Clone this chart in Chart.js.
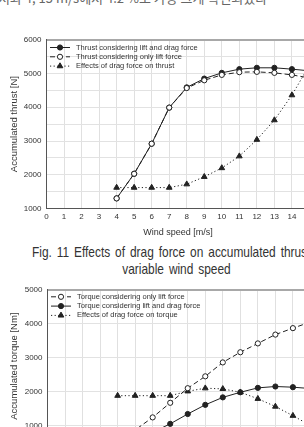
<!DOCTYPE html>
<html>
<head>
<meta charset="utf-8">
<script src="https://cdn.jsdelivr.net/npm/chart.js@4.4.0/dist/chart.umd.min.js"></script>
<style>
  html, body { margin: 0; padding: 0; background: #fff; }
  body { width: 304px; height: 427px; overflow: hidden; position: relative; font-family: "Liberation Sans", Arial, sans-serif; }
  .box { position: absolute; left: 0; }
  #para { position: absolute; left: -2px; top: -9px; font: 13px/13px "Noto Sans CJK KR", serif; color: #666; white-space: nowrap; }
  .cap { position: absolute; white-space: nowrap; font-size: 14.5px; line-height: 16px; color: #333; word-spacing: 2px; transform: scaleX(0.82); }
</style>
</head>
<body>
<div id="para">서와 4, 15 m/s에서 4.2 %로 가장 크게 확인되었다</div>
<div class="box" style="top:30px;width:330px;height:208px"><canvas id="thrustChart"></canvas></div>
<div class="cap" style="left:32px;top:244px;transform-origin:0 0">Fig. 11 Effects of drag force on accumulated thrust with</div>
<div class="cap" style="left:0;width:353px;text-align:center;top:261px;transform-origin:176.5px 0">variable wind speed</div>
<div class="box" style="top:280px;width:330px;height:192px"><canvas id="torqueChart"></canvas></div>
<script>
const windSpeed = [4, 5, 6, 7, 8, 9, 10, 11, 12, 13, 14, 15];

const thrustLiftDrag = [1300, 2030, 2920, 3990, 4590, 4850, 5020, 5130, 5170, 5170, 5130, 5080];
const thrustLiftOnly = [1300, 2030, 2920, 3990, 4570, 4800, 4960, 5040, 5050, 5020, 4960, 4870];
const thrustDragEffect = [1620, 1620, 1620, 1620, 1720, 1940, 2200, 2550, 3040, 3620, 4360, 5250];

const torqueLiftOnly = [500, 870, 1240, 1670, 2100, 2450, 2860, 3160, 3420, 3680, 3870, 4050];
const torqueLiftDrag = [330, 560, 800, 1050, 1340, 1610, 1830, 1980, 2110, 2150, 2130, 2090];
const torqueDragEffect = [1880, 1880, 1880, 1880, 2010, 2100, 2080, 1980, 1790, 1560, 1290, 1000];

const thrustTicks = [1000, 2000, 3000, 4000, 5000, 6000];
const torqueTicks = [1000, 2000, 3000, 4000, 5000];

const ink = "#222";
const textColor = "#333";
const narrow = "'Liberation Sans Narrow', 'Liberation Sans', Arial, sans-serif";

const toPoints = (ys) => windSpeed.map((x, i) => ({ x: x, y: ys[i] }));

function filledSeries(label, ys, order) {
  return {
    label: label, data: toPoints(ys), order: order,
    borderColor: ink, borderWidth: 1, backgroundColor: ink,
    pointStyle: "circle", pointRadius: 2.6, pointBackgroundColor: ink, pointBorderColor: ink,
  };
}
function openSeries(label, ys, order) {
  return {
    label: label, data: toPoints(ys), order: order,
    borderColor: ink, borderWidth: 1, borderDash: [5, 3], backgroundColor: "#fff",
    pointStyle: "circle", pointRadius: 2.6, pointBackgroundColor: "#fff", pointBorderColor: ink,
  };
}
function triSeries(label, ys, order) {
  return {
    label: label, data: toPoints(ys), order: order,
    borderColor: ink, borderWidth: 1, borderDash: [1.2, 2.4], backgroundColor: ink,
    pointStyle: "triangle", pointRadius: 3.3, pointBackgroundColor: ink, pointBorderColor: ink,
  };
}

// legend drawn inside the plot, top-left, with line + marker samples
const innerLegend = {
  id: "innerLegend",
  afterDraw(chart, args, opts) {
    const { ctx, chartArea } = chart;
    ctx.save();
    chart.data.datasets.forEach((ds, i) => {
      const y = chartArea.top + opts.top + i * opts.gap;
      const x0 = chartArea.left + 3.5;
      ctx.strokeStyle = ds.borderColor;
      ctx.lineWidth = 1;
      ctx.setLineDash(ds.borderDash || []);
      ctx.beginPath();
      ctx.moveTo(x0, y);
      ctx.lineTo(x0 + 20, y);
      ctx.stroke();
      ctx.setLineDash([]);
      ctx.fillStyle = ds.pointBackgroundColor;
      ctx.strokeStyle = ds.pointBorderColor;
      Chart.helpers.drawPoint(ctx, { pointStyle: ds.pointStyle, radius: ds.pointRadius, rotation: 0, borderWidth: 1 }, x0 + 10, y);
      ctx.fillStyle = textColor;
      ctx.font = "7.5px " + narrow;
      ctx.textBaseline = "middle";
      ctx.textAlign = "left";
      ctx.fillText(ds.label, x0 + 26, y);
    });
    ctx.restore();
  },
};

function makeChart(id, datasets, yTitle, yMin, yMax, yTicks, yGrid, leftAxis, legendTop) {
  const ctx = document.getElementById(id).getContext("2d");
  return new Chart(ctx, {
    type: "line",
    data: { datasets: datasets },
    plugins: [innerLegend],
    options: {
      responsive: true,
      maintainAspectRatio: false,
      animation: false,
      layout: { padding: { top: 9, right: 330 - (leftAxis + 15 * 17.53), left: 8.6, bottom: 0 } },
      plugins: {
        legend: { display: false },
        tooltip: { enabled: false },
        innerLegend: { top: legendTop, gap: 9.3 },
      },
      scales: {
        x: {
          type: "linear", min: 0, max: 15,
          afterFit: (s) => { s.height = 29.5; },
          ticks: { stepSize: 1, autoSkip: false, padding: 3, color: textColor, font: { size: 8, family: narrow } },
          grid: { color: "#e0e0e0", drawTicks: false },
          border: { color: "#555", width: 1 },
          title: { display: true, text: "Wind speed [m/s]", color: textColor, padding: 0, font: { size: 9, family: "'Liberation Sans', Arial" } },
        },
        y: {
          min: yMin, max: yMax,
          afterFit: (s) => { s.width = leftAxis - 8.6; },
          afterBuildTicks: (s) => {
            const vals = [];
            for (let v = yGrid * Math.ceil(yMin / yGrid); v <= yMax; v += yGrid) vals.push(v);
            s.ticks = vals.map((v) => ({ value: v }));
          },
          ticks: {
            autoSkip: false, padding: 5, color: textColor,
            font: { size: 8, family: narrow },
            callback: (v) => (yTicks.includes(v) ? v : ""),
          },
          grid: {
            drawTicks: false,
            color: (c) => (c.tick && c.tick.value === yMax ? "#a8a8a8" : "#e2e2e2"),
            lineWidth: (c) => (c.tick && c.tick.value === yMax ? 2 : 1),
          },
          border: { color: "#555", width: 1 },
          title: { display: true, text: yTitle, color: textColor, padding: 0, font: { size: 9.5, family: narrow } },
        },
      },
    },
  });
}

makeChart("thrustChart", [
  filledSeries("Thrust considering lift and drag force", thrustLiftDrag, 1),
  openSeries("Thrust considering only lift force", thrustLiftOnly, 0),
  triSeries("Effects of drag force on thrust", thrustDragEffect, 2),
], "Accumulated thrust [N]", 1000, 6000, thrustTicks, 500, 46.5, 7.7);

makeChart("torqueChart", [
  openSeries("Torque considering only lift force", torqueLiftOnly, 1),
  filledSeries("Torque considering lift and drag force", torqueLiftDrag, 0),
  triSeries("Effects of drag force on torque", torqueDragEffect, 2),
], "Accumulated torque [Nm]", 500, 5000, torqueTicks, 1000, 47.5, 7);
</script>
</body>
</html>
